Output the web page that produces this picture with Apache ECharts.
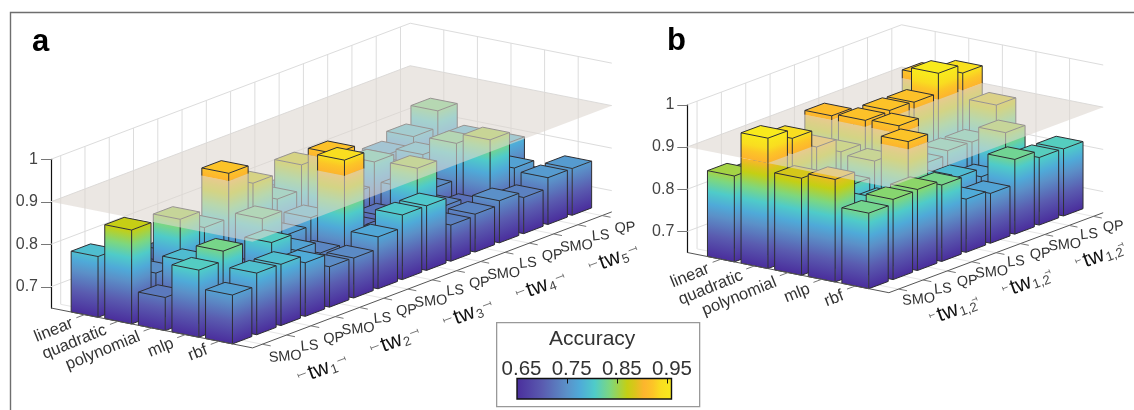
<!DOCTYPE html>
<html><head><meta charset="utf-8">
<style>html,body{margin:0;padding:0;background:#fff}#c{width:1134px;height:410px}</style>
<script src="https://cdn.jsdelivr.net/npm/echarts@6/dist/echarts.min.js"></script>
</head><body><div id="c"></div>
<script>
// ---- categories and tick labels ----
const kernels = ['linear','quadratic','polynomial','mlp','rbf'];
const solvers = ['SMO','LS','QP'];
const windowsA = ['1','2','3','4','5'];
const windowsB = ['1,2','1,2','1,2'];
const zTicks = [0.7,0.8,0.9,1];
const legendTicks = [0.65,0.75,0.85,0.95];
const planeLevel = 0.9;
// ---- panel a values (columns: tw1..tw5 x SMO, LS, QP) ----
const aLinear     = [0.793,0.73,0.72,0.74,0.75,0.76,0.78,0.77,0.78,0.78,0.80,0.76,0.775,0.794,0.833];
const aQuadratic  = [0.871,0.748,0.853,0.812,0.918,0.873,0.814,0.873,0.78,0.76,0.815,0.77,0.789,0.76,0.785];
const aPolynomial = [0.728,0.791,0.74,0.73,0.827,0.767,0.786,0.915,0.72,0.725,0.77,0.746,0.831,0.76,0.786];
const aMlp        = [0.808,0.831,0.74,0.808,0.768,0.74,0.937,0.71,0.73,0.853,0.74,0.72,0.855,0.767,0.72];
const aRbf        = [0.765,0.795,0.794,0.776,0.745,0.744,0.772,0.802,0.802,0.735,0.739,0.749,0.735,0.76,0.76];
// ---- panel b values ----
const bLinear     = [0.8535,0.84,0.85,0.84,0.91,0.83,0.84,0.85,0.92];
const bQuadratic  = [0.959,0.937,0.895,0.862,0.915,0.917,0.915,0.962,0.941];
const bPolynomial = [0.88,0.83,0.82,0.856,0.918,0.806,0.816,0.815,0.881];
const bMlp        = [0.893,0.81,0.80,0.918,0.80,0.79,0.77,0.853,0.75];
const bRbf        = [0.829,0.84,0.842,0.831,0.776,0.768,0.827,0.81,0.809];
// ---- colour scale ----
const cmapLevels = [0.65,0.702,0.749,0.775,0.805,0.835,0.869,0.885,0.902,0.92,0.935,0.958];
const cmapColors = ['#4a2d9c','#5a5cb0','#5b90c8','#4faad8','#4fcbc9','#7dd77f','#c4cf14','#dcc41c','#fdb52e','#fcc527','#f9dd20','#f8ea1c'];

const FONT = '"Liberation Sans",Arial,sans-serif';
function hex(c){return [1,3,5].map(i=>parseInt(c.substr(i,2),16));}
function cmap(z){
  z=Math.max(cmapLevels[0],Math.min(cmapLevels[cmapLevels.length-1],z));
  for(let i=1;i<cmapLevels.length;i++){
    if(z<=cmapLevels[i]){
      const t=(z-cmapLevels[i-1])/(cmapLevels[i]-cmapLevels[i-1]);
      const a=hex(cmapColors[i-1]),b=hex(cmapColors[i]);
      return 'rgb('+a.map((v,k)=>Math.round(v+(b[k]-v)*t)).join(',')+')';
    }
  }
  return cmapColors[cmapColors.length-1];
}
function stopsBetween(z0,z1){
  const s=[{offset:0,color:cmap(z0)}];
  cmapLevels.forEach(l=>{if(l>z0&&l<z1)s.push({offset:(l-z0)/(z1-z0),color:cmap(l)});});
  s.push({offset:1,color:cmap(z1)});
  return s;
}
const panels=[
 {grid:0,rows:[aLinear,aQuadratic,aPolynomial,aMlp,aRbf],rx:33.6,ry:6.65,cx:24.27,cy:-9.19,pz:425,
  left:51,floor:308,tw:windowsA,twStep:3,solverOff:[23,12.4],twOff:[35,32],twText:[1,2],seg:8,kernelOff:[-4,5]},
 {grid:1,rows:[bLinear,bQuadratic,bPolynomial,bMlp,bRbf],rx:33.6,ry:6.7,cx:24.35,cy:-9.09,pz:422,
  left:687.3,floor:252.5,tw:windowsB,twStep:3,solverOff:[20,10.5],twOff:[30.2,27.3],twText:[3.5,2],seg:5,kernelOff:[-4,6]}
];
panels.forEach(p=>{p.nc=p.rows[0].length;p.span=p.nc-0.2;p.width=6*p.rx+p.span*p.cx;p.height=(1-0.65)*p.pz;});
function mk(p,api){return (r,c,z)=>api.coord([r*p.rx+c*p.cx, z-(r*p.ry+c*p.cy)/p.pz]);}
function poly(points,style){return {type:'polygon',shape:{points},style,silent:true};}
function line(a,b,stroke,w){return {type:'line',shape:{x1:a[0],y1:a[1],x2:b[0],y2:b[1]},style:{stroke,lineWidth:w,fill:null},silent:true};}
const EDGE='#2e2e33';
function faceFill(P,a,b,zl,zh){
  // gradient runs across lines of equal height, which are parallel to the base edge
  const A=P(a[0],a[1],zl),B=P(b[0],b[1],zl),T=P(a[0],a[1],zh);
  let ex=B[0]-A[0],ey=B[1]-A[1];const n=Math.hypot(ex,ey);ex/=n;ey/=n;
  const vx=T[0]-A[0],vy=T[1]-A[1],d=vx*ex+vy*ey;
  return new echarts.graphic.LinearGradient(A[0],A[1],A[0]+vx-d*ex,A[1]+vy-d*ey,stopsBetween(zl,zh),true);
}
function barRender(p,upper){
  return function(params,api){
    const P=mk(p,api),r=api.value(0),c=api.value(1),v=api.value(2);
    if(upper&&v<=planeLevel)return {type:'group',children:[]};
    const zl=upper?planeLevel:0.65, zh=upper?v:Math.min(v,planeLevel), hasTop=upper||v<=planeLevel;
    const r0=r+0.6,r1=r+1.4,c0=c,c1=c+0.8,ch=[];
    const a=[r0,c0],b=[r1,c0],d=[r1,c1],e=[r0,c1];
    const q=(u,z)=>P(u[0],u[1],z);
    ch.push(poly([q(a,zl),q(b,zl),q(b,zh),q(a,zh)],{fill:faceFill(P,a,b,zl,zh)}));
    ch.push(poly([q(b,zl),q(d,zl),q(d,zh),q(b,zh)],{fill:faceFill(P,b,d,zl,zh)}));
    if(hasTop)ch.push(poly([q(a,zh),q(b,zh),q(d,zh),q(e,zh)],{fill:cmap(zh),stroke:EDGE,lineWidth:1}));
    [a,b,d].forEach(u=>ch.push(line(q(u,zl),q(u,zh),EDGE,1)));
    if(!upper){ch.push(line(q(a,zl),q(b,zl),EDGE,1));ch.push(line(q(b,zl),q(d,zl),EDGE,1));}
    return {type:'group',children:ch};
  };
}
function barData(p){const out=[];p.rows.forEach((row,r)=>{for(let c=p.nc-1;c>=0;c--)out.push([r,c,row[c]]);});return out;}
function frameRender(p){
  return function(params,api){
    const P=mk(p,api),ch=[],G='#dcdcdc',F='#e6e6e6',S=p.span;
    for(let c=0;c<p.nc;c++){
      ch.push(line(P(0,c+0.4,0.65),P(0,c+0.4,1),G,1));
      ch.push(line(P(0,c+0.4,0.65),P(6,c+0.4,0.65),F,1));
    }
    for(let r=1;r<=5;r++){
      ch.push(line(P(r,S,0.65),P(r,S,1),G,1));
      ch.push(line(P(r,0,0.65),P(r,S,0.65),F,1));
    }
    zTicks.forEach(z=>{ch.push(line(P(0,0,z),P(0,S,z),G,1));ch.push(line(P(0,S,z),P(6,S,z),G,1));});
    return {type:'group',children:ch};
  };
}
function planeRender(p){
  return function(params,api){
    const P=mk(p,api),S=p.span,z=api.value(0);
    return poly([P(0,0,z),P(6,0,z),P(6,S,z),P(0,S,z)],{fill:'rgba(221,215,208,0.6)'});
  };
}
function axisRender(p){
  return function(params,api){
    const P=mk(p,api),S=p.span,ch=[],K='#555';
    ch.push(line(P(0,0,0.65),P(6,0,0.65),K,1));
    ch.push(line(P(6,0,0.65),P(6,S,0.65),K,1));
    for(let r=1;r<=5;r++)ch.push(line(P(r,0,0.65),P(r,-0.34,0.65),'#777',1));
    for(let c=0;c<p.nc;c++)ch.push(line(P(6,c+0.4,0.65),P(6.25,c+0.4,0.65),'#777',1));
    const deg=Math.PI/180;
    kernels.forEach((k,i)=>{
      const t=P(i+1,-0.34,0.65);
      ch.push({type:'text',x:t[0]+p.kernelOff[0],y:t[1]+p.kernelOff[1],rotation:22*deg,silent:true,
        style:{text:k,fontSize:16.5,fontFamily:FONT,fill:'#333',align:'right',verticalAlign:'middle'}});
    });
    for(let c=0;c<p.nc;c++){
      const t=P(6,c+0.4,0.65);
      ch.push({type:'text',x:t[0]+p.solverOff[0],y:t[1]+p.solverOff[1]-(c%3===1?1.5:0),rotation:5*deg,silent:true,
        style:{text:solvers[c%3],fontSize:14.5,fontFamily:FONT,fill:'#333',align:'center',verticalAlign:'middle'}});
    }
    p.tw.forEach((w,i)=>{
      const t=P(6,i*p.twStep+1.4,0.65),cx=t[0]+p.twOff[0],cy=t[1]+p.twOff[1];
      const hx=23.3,hy=-8.7,L=Math.hypot(hx,hy),ux=hx/L,uy=hy/L,s=p.seg,B='#555';
      const e1=[cx-hx,cy-hy],e2=[cx+hx,cy+hy];
      ch.push(line(e1,[e1[0]+ux*s,e1[1]+uy*s],B,0.8));
      ch.push(line(e2,[e2[0]-ux*s,e2[1]-uy*s],B,0.8));
      [e1,e2].forEach(e=>ch.push(line([e[0]+uy*2,e[1]-ux*2],[e[0]-uy*2,e[1]+ux*2],B,0.8)));
      ch.push({type:'text',x:cx+p.twText[0],y:cy+p.twText[1],rotation:20*deg,silent:true,
        style:{text:'{a|tw}{b|'+w+'}',align:'center',verticalAlign:'middle',
          rich:{a:{fontSize:21.5,fontFamily:FONT,fill:'#111',color:'#111'},
                b:{fontSize:13,fontFamily:FONT,fill:'#444',color:'#444',verticalAlign:'bottom',padding:[6,0,0,1]}}}});
    });
    return {type:'group',children:ch};
  };
}
function colorbarRender(params,api){
  const n=cmapLevels.length,a=api.coord([cmapLevels[0],0]),b=api.coord([cmapLevels[n-1],1]);
  return {type:'rect',shape:{x:a[0],y:b[1],width:b[0]-a[0],height:a[1]-b[1]},silent:true,
    style:{stroke:'#111',lineWidth:1.4,
      fill:new echarts.graphic.LinearGradient(0,0,1,0,cmapLevels.map((l,i)=>({offset:(l-cmapLevels[0])/(cmapLevels[n-1]-cmapLevels[0]),color:cmapColors[i]})))}};
}
const grids=[],xAxes=[],yAxes=[],series=[];
panels.forEach(p=>{
  grids.push({left:p.left,top:p.floor-p.height,width:p.width,height:p.height});
  xAxes.push({type:'value',gridIndex:p.grid,min:0,max:p.width,show:false});
  yAxes.push({type:'value',gridIndex:p.grid,min:0.65,max:1,position:'left',
    axisLine:{show:true,lineStyle:{color:'#111',width:1.2}},
    axisTick:{show:true,length:10,customValues:zTicks,lineStyle:{color:'#777',width:1}},
    axisLabel:{customValues:zTicks,fontSize:16,fontFamily:FONT,color:'#444',margin:13},
    splitLine:{show:false}});
  const base={type:'custom',xAxisIndex:p.grid,yAxisIndex:p.grid,clip:false,animation:false,silent:true};
  series.push(Object.assign({},base,{z:2,renderItem:frameRender(p),data:[[0,0]]}));
  series.push(Object.assign({},base,{z:3,renderItem:barRender(p,false),data:barData(p)}));
  series.push(Object.assign({},base,{z:4,renderItem:planeRender(p),data:[[planeLevel,0]],encode:{x:1,y:0}}));
  series.push(Object.assign({},base,{z:5,renderItem:barRender(p,true),data:barData(p)}));
  series.push(Object.assign({},base,{z:6,renderItem:axisRender(p),data:[[0,0]]}));
});
// colour bar legend
grids.push({left:517,top:378.5,width:154.5,height:20.5});
xAxes.push({type:'value',gridIndex:2,min:cmapLevels[0],max:cmapLevels[cmapLevels.length-1],position:'top',z:10,
  axisLine:{show:false,onZero:false},
  axisTick:{show:true,inside:true,length:5,customValues:legendTicks.slice(1),lineStyle:{color:'#111',width:1}},
  axisLabel:{customValues:legendTicks,fontSize:20.5,fontFamily:FONT,color:'#333',margin:-1,padding:[0,0,0,9],formatter:v=>v.toFixed(2)},
  splitLine:{show:false}});
yAxes.push({type:'value',gridIndex:2,min:0,max:1,show:false});
series.unshift({type:'custom',xAxisIndex:2,yAxisIndex:2,clip:false,z:1,silent:true,animation:false,renderItem:colorbarRender,data:[[0.65,0]]});

const chart=echarts.init(document.getElementById('c'),null,{renderer:'canvas'});
chart.setOption({
  animation:false,backgroundColor:'#fff',
  grid:grids,xAxis:xAxes,yAxis:yAxes,series,
  graphic:[
    {type:'rect',left:8,top:10,z:0,silent:true,shape:{width:1300,height:600},style:{fill:null,stroke:'#6e6e6e',lineWidth:1.4}},
    {type:'rect',left:496,top:322,z:0,silent:true,shape:{width:203,height:84},style:{fill:'#fff',stroke:'#999',lineWidth:1.3}},
    {type:'text',left:32,top:27,silent:true,style:{text:'a',fontSize:31,fontWeight:'bold',fontFamily:FONT,fill:'#000'}},
    {type:'text',left:667,top:26,silent:true,style:{text:'b',fontSize:31,fontWeight:'bold',fontFamily:FONT,fill:'#000'}},
    {type:'text',left:549,top:329,silent:true,style:{text:'Accuracy',fontSize:21,fontFamily:FONT,fill:'#333'}}
  ]
});
</script></body></html>
